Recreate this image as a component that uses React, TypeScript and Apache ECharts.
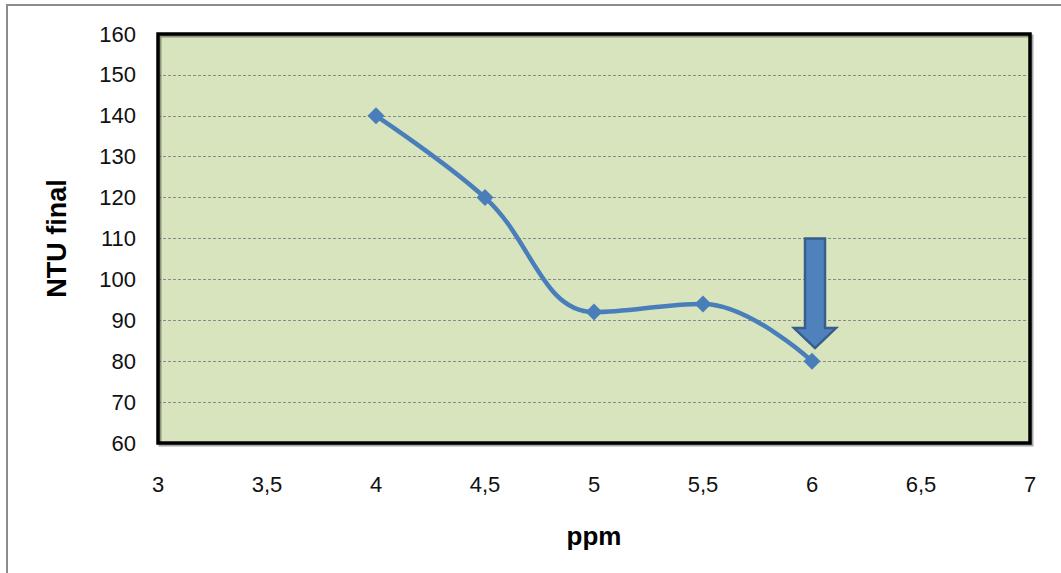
import React, { useEffect, useRef } from "react";
import * as echarts from "echarts";

const ppm = [4, 4.5, 5, 5.5, 6];
const ntu = [140, 120, 92, 94, 80];
const xTicks = [3, 3.5, 4, 4.5, 5, 5.5, 6, 6.5, 7];
const arrowX = 6;
const arrowTopValue = 110;
const arrowTipValue = 83.2;

export default function App() {
  const ref = useRef<HTMLDivElement>(null);
  useEffect(() => {
    if (!ref.current) return;
    const chart = echarts.init(ref.current, undefined, { renderer: "svg" });
    const font = "'Liberation Sans', Arial, sans-serif";
    chart.setOption({
      animation: false,
      backgroundColor: "#ffffff",
      grid: { left: 158, top: 34, right: 31, bottom: 130, show: true, backgroundColor: "#D7E4BD", borderColor: "transparent", borderWidth: 0 },
      xAxis: {
        type: "value",
        min: 3,
        max: 7,
        interval: 0.5,
        name: "ppm",
        nameLocation: "middle",
        nameGap: 80,
        nameTextStyle: { fontFamily: font, fontSize: 26, fontWeight: "bold", color: "#000" },
        axisLine: { show: false },
        axisTick: { show: false },
        splitLine: { show: false },
        axisLabel: {
          margin: 30,
          fontFamily: font,
          fontSize: 22,
          color: "#111",
          formatter: (v: number) => (xTicks.includes(v) ? String(v).replace(".", ",") : ""),
        },
      },
      yAxis: {
        type: "value",
        min: 60,
        max: 160,
        interval: 10,
        name: "NTU final",
        nameLocation: "middle",
        nameGap: 88,
        nameRotate: 90,
        nameTextStyle: { fontFamily: font, fontSize: 27, fontWeight: "bold", color: "#000" },
        axisLine: { show: false },
        axisTick: { show: false },
        splitLine: { show: true, lineStyle: { color: "#8a8a8a", type: [3, 2], width: 1 } },
        axisLabel: { margin: 22, fontFamily: font, fontSize: 22, color: "#111" },
      },
      series: [
        {
          type: "line",
          data: ppm.map((x, i) => [x, ntu[i]]),
          smooth: 0.4,
          symbol: "diamond",
          symbolSize: 17,
          lineStyle: { color: "#4A7EBB", width: 4.5 },
          itemStyle: { color: "#4A7EBB" },
          z: 3,
        },
      ],
    });

    const tl = chart.convertToPixel({ gridIndex: 0 }, [3, 160]) as number[];
    const br = chart.convertToPixel({ gridIndex: 0 }, [7, 60]) as number[];
    const top = chart.convertToPixel({ gridIndex: 0 }, [arrowX, arrowTopValue]) as number[];
    const tip = chart.convertToPixel({ gridIndex: 0 }, [arrowX, arrowTipValue]) as number[];
    const cx = top[0] + 3;
    const headH = 20;
    const sw = 10;
    const hw = 21;
    const headTop = tip[1] - headH;
    chart.setOption({
      graphic: [
        {
          type: "rect",
          shape: { x: 7, y: 5, width: 1070, height: 600 },
          style: { fill: "none", stroke: "#8c8c8c", lineWidth: 2 },
          z: 0,
          silent: true,
        },
        {
          type: "rect",
          shape: { x: tl[0] + 2, y: tl[1] + 2, width: br[0] - tl[0], height: br[1] - tl[1] },
          style: { fill: "none", stroke: "rgba(0,0,0,0.35)", lineWidth: 3 },
          z: 9,
          silent: true,
        },
        {
          type: "rect",
          shape: { x: tl[0], y: tl[1], width: br[0] - tl[0], height: br[1] - tl[1] },
          style: { fill: "none", stroke: "#000", lineWidth: 3.5 },
          z: 10,
          silent: true,
        },
        {
          type: "polygon",
          shape: {
            points: [
              [cx - sw, top[1]],
              [cx + sw, top[1]],
              [cx + sw, headTop],
              [cx + hw, headTop],
              [cx, tip[1]],
              [cx - hw, headTop],
              [cx - sw, headTop],
            ],
          },
          style: { fill: "#4F81BD", stroke: "#385D8A", lineWidth: 2.5 },
          z: 20,
          silent: true,
        },
      ],
    });
    return () => chart.dispose();
  }, []);
  return <div ref={ref} style={{ position: "fixed", left: 0, top: 0, width: 1061, height: 573 }} />;
}
